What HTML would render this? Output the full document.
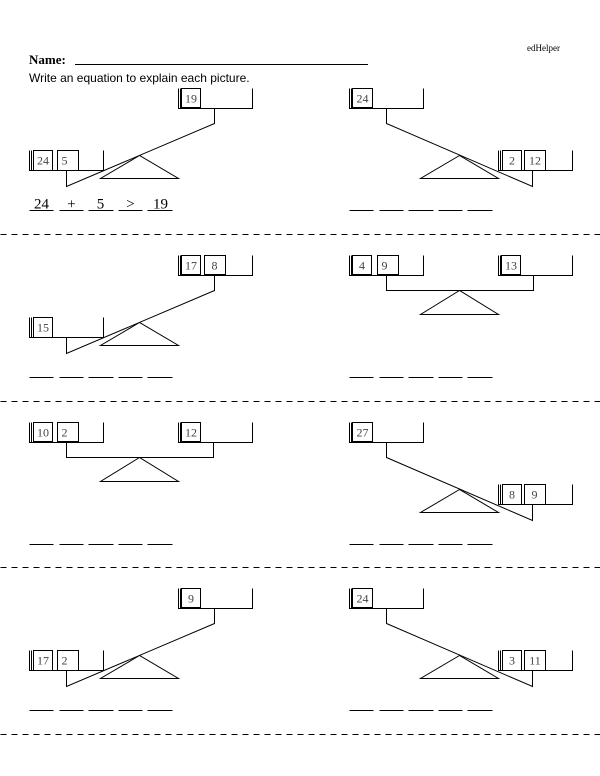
<!DOCTYPE html>
<html><head><meta charset="utf-8"><style>
html,body{margin:0;padding:0;background:#fff;}
svg{display:block;}
.b{font-family:"Liberation Serif",serif;font-size:12px;fill:#444;}
</style></head><body>
<svg width="600" height="776" viewBox="0 0 600 776" xmlns="http://www.w3.org/2000/svg">
<defs>
<g id="pan"><path d="M0 0V20H74V0M2 0V20" fill="none" stroke="#000" stroke-width="1"/></g>
<g id="ld" fill="none" stroke="#000" stroke-width="1">
 <use href="#pan" x="178" y="88"/><use href="#pan" x="29" y="150"/>
 <path d="M214 108V123L66 186V170"/>
 <path d="M139 155L100 178H178Z"/>
</g>
<g id="rd" fill="none" stroke="#000" stroke-width="1">
 <use href="#pan" x="29" y="88"/><use href="#pan" x="178" y="150"/>
 <path d="M66 108V123L212 186V170"/>
 <path d="M139 155L100 178H178Z"/>
</g>
<g id="bal" fill="none" stroke="#000" stroke-width="1">
 <use href="#pan" x="29" y="88"/><use href="#pan" x="178" y="88"/>
 <path d="M66 108V123H213V108"/>
 <path d="M139 123L100 147H178Z"/>
</g>
<g id="ans" stroke="#000" stroke-width="1">
 <path d="M29 210H53M59 210H83M88 210H113M118 210H142M147 210H172"/>
</g>
</defs>

<text x="527" y="51" font-family="Liberation Serif,serif" font-size="9">edHelper</text>
<text x="29" y="64" font-family="Liberation Serif,serif" font-size="13" font-weight="bold">Name:</text>
<line x1="75" y1="64.5" x2="368" y2="64.5" stroke="#000" stroke-width="1"/>
<text x="29" y="82" font-family="Liberation Sans,sans-serif" font-size="12">Write an equation to explain each picture.</text>

<g transform="translate(0.5,0.5)">
<g stroke="#000" stroke-width="1" stroke-dasharray="6,5">
<line x1="0" y1="234" x2="600" y2="234"/>
<line x1="0" y1="401" x2="600" y2="401"/>
<line x1="0" y1="567" x2="600" y2="567"/>
<line x1="0" y1="734" x2="600" y2="734"/>
</g>

<!-- Row 1 -->
<g>
 <use href="#ld"/><use href="#ans"/>
 <g fill="none" stroke="#000" stroke-width="1">
  <rect x="181" y="88" width="19" height="19"/>
  <rect x="33" y="150" width="19" height="20"/><rect x="57" y="150" width="21" height="20"/>
 </g>
 <text class="b" x="190.5" y="102" text-anchor="middle">19</text>
 <text class="b" x="42.5" y="164" text-anchor="middle">24</text>
 <text class="b" x="64" y="164" text-anchor="middle">5</text>
 <g font-family="Liberation Serif,serif" font-size="15" text-anchor="middle">
  <text x="41" y="208">24</text><text x="71" y="208">+</text><text x="100" y="208">5</text><text x="130" y="208">&gt;</text><text x="160" y="208">19</text>
 </g>
</g>
<g transform="translate(320,0)">
 <use href="#rd"/><use href="#ans"/>
 <g fill="none" stroke="#000" stroke-width="1">
  <rect x="32" y="88" width="20" height="19"/>
  <rect x="182" y="150" width="19" height="20"/><rect x="204" y="150" width="21" height="20"/>
 </g>
 <text class="b" x="42" y="102" text-anchor="middle">24</text>
 <text class="b" x="191.5" y="164" text-anchor="middle">2</text>
 <text class="b" x="214.5" y="164" text-anchor="middle">12</text>
</g>

<!-- Row 2 -->
<g transform="translate(0,167)">
 <use href="#ld"/><use href="#ans"/>
 <g fill="none" stroke="#000" stroke-width="1">
  <rect x="181" y="88" width="19" height="19"/><rect x="204" y="88" width="21" height="19"/>
  <rect x="33" y="150" width="19" height="20"/>
 </g>
 <text class="b" x="190.5" y="102" text-anchor="middle">17</text>
 <text class="b" x="214" y="102" text-anchor="middle">8</text>
 <text class="b" x="42.5" y="164" text-anchor="middle">15</text>
</g>
<g transform="translate(320,167)">
 <use href="#bal"/><use href="#ans"/>
 <g fill="none" stroke="#000" stroke-width="1">
  <rect x="32" y="88" width="19" height="19"/><rect x="57" y="88" width="21" height="19"/>
  <rect x="181" y="88" width="19" height="19"/>
 </g>
 <text class="b" x="41.5" y="102" text-anchor="middle">4</text>
 <text class="b" x="64" y="102" text-anchor="middle">9</text>
 <text class="b" x="190.5" y="102" text-anchor="middle">13</text>
</g>

<!-- Row 3 -->
<g transform="translate(0,334)">
 <use href="#bal"/><use href="#ans"/>
 <g fill="none" stroke="#000" stroke-width="1">
  <rect x="33" y="88" width="19" height="19"/><rect x="57" y="88" width="21" height="19"/>
  <rect x="181" y="88" width="19" height="19"/>
 </g>
 <text class="b" x="42.5" y="102" text-anchor="middle">10</text>
 <text class="b" x="64" y="102" text-anchor="middle">2</text>
 <text class="b" x="190.5" y="102" text-anchor="middle">12</text>
</g>
<g transform="translate(320,334)">
 <use href="#rd"/><use href="#ans"/>
 <g fill="none" stroke="#000" stroke-width="1">
  <rect x="32" y="88" width="20" height="19"/>
  <rect x="182" y="150" width="19" height="20"/><rect x="204" y="150" width="21" height="20"/>
 </g>
 <text class="b" x="42" y="102" text-anchor="middle">27</text>
 <text class="b" x="191.5" y="164" text-anchor="middle">8</text>
 <text class="b" x="214" y="164" text-anchor="middle">9</text>
</g>

<!-- Row 4 -->
<g transform="translate(0,500)">
 <use href="#ld"/><use href="#ans"/>
 <g fill="none" stroke="#000" stroke-width="1">
  <rect x="181" y="88" width="19" height="19"/>
  <rect x="33" y="150" width="19" height="20"/><rect x="57" y="150" width="21" height="20"/>
 </g>
 <text class="b" x="190.5" y="102" text-anchor="middle">9</text>
 <text class="b" x="42.5" y="164" text-anchor="middle">17</text>
 <text class="b" x="64" y="164" text-anchor="middle">2</text>
</g>
<g transform="translate(320,500)">
 <use href="#rd"/><use href="#ans"/>
 <g fill="none" stroke="#000" stroke-width="1">
  <rect x="32" y="88" width="20" height="19"/>
  <rect x="182" y="150" width="19" height="20"/><rect x="204" y="150" width="21" height="20"/>
 </g>
 <text class="b" x="42" y="102" text-anchor="middle">24</text>
 <text class="b" x="191.5" y="164" text-anchor="middle">3</text>
 <text class="b" x="214.5" y="164" text-anchor="middle">11</text>
</g>
</g>
</svg>
</body></html>
